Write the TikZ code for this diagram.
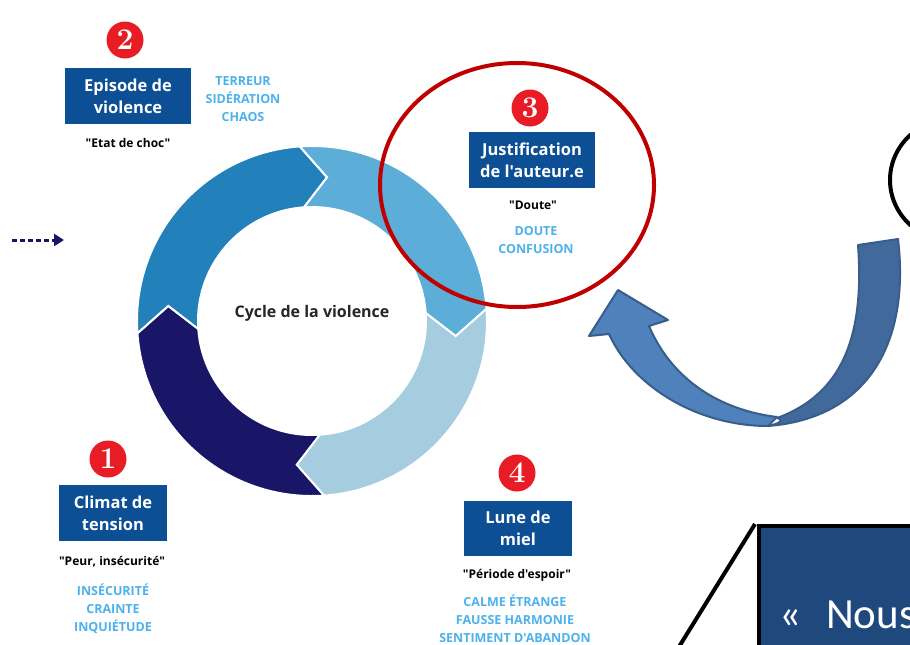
\documentclass[tikz,border=0pt]{standalone}
\usepackage{fontspec}
\newfontfamily\osans{Open Sans}
\newfontfamily\carl{Carlito}
\usetikzlibrary{arrows.meta}
\definecolor{segA}{RGB}{25,22,104}
\definecolor{segB}{RGB}{34,128,186}
\definecolor{segC}{RGB}{92,173,215}
\definecolor{segD}{RGB}{166,204,223}
\definecolor{boxblue}{RGB}{13,79,148}
\definecolor{cyantext}{RGB}{77,178,236}
\definecolor{numred}{RGB}{232,28,36}
\definecolor{ellred}{RGB}{192,0,0}
\definecolor{arrlight}{RGB}{79,129,189}
\definecolor{arrdark}{RGB}{65,105,156}
\definecolor{arrline}{RGB}{56,93,138}
\definecolor{nousfill}{RGB}{31,73,125}
\tikzset{
  numcircle/.style={circle,fill=numred,text=white,minimum size=37pt,inner sep=0pt,
    font=\rmfamily\bfseries\fontsize{30}{30}\selectfont},
  phasebox/.style={fill=boxblue,text=white,align=center,inner sep=0pt,minimum height=56pt,
    font=\osans\bfseries\fontsize{16.5}{22}\selectfont},
  quotetext/.style={text=black,inner sep=0pt,font=\osans\bfseries\fontsize{12}{14}\selectfont},
  listtext/.style={text=cyantext,align=center,inner sep=0pt,font=\osans\bfseries\fontsize{12.5}{18}\selectfont},
  segment/.style={draw=white,line width=2pt,line join=miter},
}
\newcommand{\ringseg}[3]{% #1 trailing angle, #2 leading angle, #3 color
  \filldraw[segment,fill=#3] (#1:175) arc[start angle=#1,end angle=#2,radius=175]
    -- ({#2-10}:144.5) -- (#2:114) arc[start angle=#2,end angle=#1,radius=114]
    -- ({#1-10}:144.5) -- cycle;}
\begin{document}
\begin{tikzpicture}[x=1pt,y=1pt]
\useasboundingbox (0,0) rectangle (910,-645);
\fill[white] (0,0) rectangle (910,-645);
\clip (0,0) rectangle (910,-645);

% ring
\begin{scope}[shift={(312,-321)}]
  \ringseg{274}{184}{segA}
  \ringseg{184}{94}{segB}
  \ringseg{94}{4}{segC}
  \ringseg{4}{-86}{segD}
  \node[font=\osans\bfseries\fontsize{16}{18}\selectfont,text=black!85] (cycle) at (0,8) {Cycle de la violence};
\end{scope}

% phase 2
\node[numcircle] (n2) at (125,-40) {2};
\node[phasebox,minimum width=126pt] (b2) at (128,-96) {Episode de\\violence};
\node[quotetext] (q2) at (128,-143) {"Etat de choc"};
\node[listtext] (l2) at (243,-99) {TERREUR\\SIDÉRATION\\CHAOS};

% phase 3
\node[numcircle] (n3) at (530,-108) {3};
\node[phasebox,minimum width=126pt] (b3) at (532,-160) {Justification\\de l'auteur.e};
\node[quotetext] (q3) at (533,-205) {"Doute"};
\node[listtext] (l3) at (536,-240.5) {DOUTE\\CONFUSION};

% phase 1
\node[numcircle] (n1) at (108,-459) {1};
\node[phasebox,minimum width=108pt] (b1) at (113,-513) {Climat de\\tension};
\node[quotetext] (q1) at (112,-562) {"Peur, insécurité"};
\node[listtext] (l1) at (113,-608.5) {INSÉCURITÉ\\CRAINTE\\INQUIÉTUDE};

% phase 4
\node[numcircle] (n4) at (517,-473) {4};
\node[phasebox,minimum width=108pt,minimum height=55pt] (b4) at (518,-528.5) {Lune de\\miel};
\node[quotetext] (q4) at (517,-575) {"Période d'espoir"};
\node[listtext] (l4) at (515,-618.5) {CALME ÉTRANGE\\FAUSSE HARMONIE\\SENTIMENT D'ABANDON};

% red ellipse
\draw[ellred,line width=4pt] (517,-185) ellipse[x radius=137,y radius=122];

% black ellipse (partial)
\draw[black,line width=4pt] (955,-180) ellipse[x radius=65,y radius=62];

% dashed arrow
\coordinate (da) at (12,-240);
\coordinate (db) at (64,-240);
\draw[segA,line width=3pt,dash pattern=on 5pt off 3pt,-{Triangle[length=10pt,width=12pt]}] (da) -- (db);

% curved arrow
\filldraw[fill=arrdark,draw=arrline,line width=2pt,line join=round]
  (858,-245) -- (898,-239) .. controls (910,-340) and (870,-418) .. (768,-426)
  .. controls (790,-421) and (777,-418) .. (777,-418)
  .. controls (840,-395) and (865,-340) .. (858,-245) -- cycle;
\filldraw[fill=arrlight,draw=arrline,line width=2pt,line join=round]
  (768,-426) .. controls (698,-426) and (633,-387) .. (609,-334)
  -- (589,-336) -- (618,-290) -- (668,-320) -- (649,-326)
  .. controls (672,-380) and (720,-410) .. (777,-417) -- cycle;

% callout box
\filldraw[fill=nousfill,draw=black,line width=4.5pt] (759,-526) rectangle (940,-680);
\coordinate (cl) at (677,-650);
\draw[black,line width=4pt] (755,-524) -- (cl);
\node[anchor=base west,text=white,inner sep=0pt,font=\carl\fontsize{43}{43}\selectfont] (nous) at (779,-628) {«\hspace{25pt}Nous};
\end{tikzpicture}
\end{document}
